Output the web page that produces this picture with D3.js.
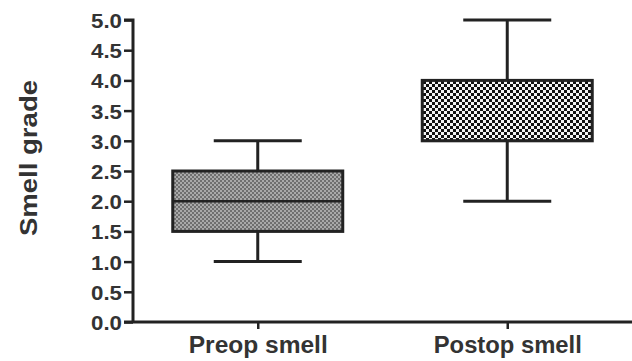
<!DOCTYPE html>
<html><head><meta charset="utf-8">
<script src="https://cdn.jsdelivr.net/npm/d3@7"></script>
<style>body{margin:0;background:#fff}svg{display:block}</style>
</head><body>
<svg id="c" width="632" height="361"></svg>
<script>
const categories = ["Preop smell", "Postop smell"];
const whiskerLow = [1.0, 2.0];
const q1 = [1.5, 3.0];
const median = [2.0, 3.0];
const q3 = [2.5, 4.0];
const whiskerHigh = [3.0, 5.0];
const yTicks = [0, 0.5, 1, 1.5, 2, 2.5, 3, 3.5, 4, 4.5, 5];
const yTitle = "Smell grade";

const svg = d3.select("#c");
const ink = "#222", txt = "#333";
const font = "Liberation Sans, Arial, sans-serif";
const x0 = 133, x1 = 632, yTop = 20, yBot = 322;
const y = d3.scaleLinear().domain([0, 5]).range([yBot, yTop]);
const x = d3.scalePoint().domain(categories).range([x0, x1]).padding(0.5);

const defs = svg.append("defs");
const p1 = defs.append("pattern").attr("id", "pg").attr("patternUnits", "userSpaceOnUse").attr("width", 4).attr("height", 4);
p1.append("rect").attr("width", 4).attr("height", 4).attr("fill", "#a9a9a9");
p1.append("rect").attr("width", 2).attr("height", 2).attr("fill", "#6f6f6f");
p1.append("rect").attr("x", 2).attr("y", 2).attr("width", 2).attr("height", 2).attr("fill", "#6f6f6f");
const p2 = defs.append("pattern").attr("id", "pc").attr("patternUnits", "userSpaceOnUse").attr("width", 6).attr("height", 6);
p2.append("rect").attr("width", 6).attr("height", 6).attr("fill", "#f4f4f4");
p2.append("rect").attr("width", 3).attr("height", 3).attr("fill", "#111");
p2.append("rect").attr("x", 3).attr("y", 3).attr("width", 3).attr("height", 3).attr("fill", "#111");
const fills = ["url(#pg)", "url(#pc)"];

const boxW = 170, capW = 88;
categories.forEach((c, i) => {
  const cx = x(c);
  const g = svg.append("g").attr("stroke", ink).attr("stroke-width", 3);
  g.append("line").attr("x1", cx).attr("x2", cx).attr("y1", y(whiskerHigh[i])).attr("y2", y(q3[i]));
  g.append("line").attr("x1", cx).attr("x2", cx).attr("y1", y(q1[i])).attr("y2", y(whiskerLow[i]));
  g.append("line").attr("x1", cx - capW/2).attr("x2", cx + capW/2).attr("y1", y(whiskerHigh[i])).attr("y2", y(whiskerHigh[i]));
  g.append("line").attr("x1", cx - capW/2).attr("x2", cx + capW/2).attr("y1", y(whiskerLow[i])).attr("y2", y(whiskerLow[i]));
  g.append("rect").attr("x", cx - boxW/2).attr("y", y(q3[i])).attr("width", boxW).attr("height", y(q1[i]) - y(q3[i])).attr("fill", fills[i]);
  g.append("line").attr("x1", cx - boxW/2).attr("x2", cx + boxW/2).attr("y1", y(median[i])).attr("y2", y(median[i])).attr("stroke-width", 2.5);
});

const yAxis = svg.append("g").attr("transform", `translate(${x0},0)`)
  .call(d3.axisLeft(y).tickValues(yTicks).tickFormat(d3.format(".1f")).tickSize(9).tickPadding(2));
yAxis.select(".domain").attr("stroke", ink).attr("stroke-width", 3).attr("d", `M-9,${yTop}H0V${yBot}`);
yAxis.selectAll(".tick line").attr("stroke", ink).attr("stroke-width", 2.5);
yAxis.selectAll(".tick text").attr("fill", txt).attr("font-family", font)
  .attr("font-weight", "bold").attr("font-size", 21).attr("dy", "0.36em")
  .attr("textLength", 31).attr("lengthAdjust", "spacingAndGlyphs");

const xAxis = svg.append("g").attr("transform", `translate(0,${yBot})`)
  .call(d3.axisBottom(x).tickSize(7).tickPadding(8));
xAxis.select(".domain").attr("stroke", ink).attr("stroke-width", 3).attr("d", `M${x0 - 9},0H${x1}`);
xAxis.selectAll(".tick line").attr("stroke", ink).attr("stroke-width", 2.5);
xAxis.selectAll(".tick text").attr("fill", txt).attr("font-family", font)
  .attr("font-weight", "bold").attr("font-size", 23)
  .attr("textLength", (d, i) => i === 0 ? 139 : 148).attr("lengthAdjust", "spacingAndGlyphs");

svg.append("text").attr("transform", `translate(37,158) rotate(-90)`).attr("text-anchor", "middle")
  .attr("fill", txt).attr("font-family", font).attr("font-weight", "bold")
  .attr("font-size", 24).attr("textLength", 156).attr("lengthAdjust", "spacingAndGlyphs").text(yTitle);
</script>
</body></html>
